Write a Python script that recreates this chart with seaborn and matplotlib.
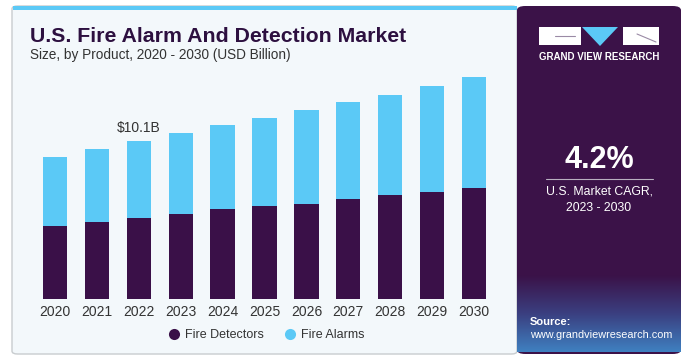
import matplotlib
matplotlib.use("Agg")
import matplotlib.pyplot as plt
from matplotlib.patches import FancyBboxPatch, Rectangle, Polygon
from matplotlib.lines import Line2D
from matplotlib.colors import LinearSegmentedColormap
import numpy as np
import pandas as pd
import seaborn as sns

years = ["2020", "2021", "2022", "2023", "2024", "2025", "2026", "2027", "2028", "2029", "2030"]
fire_detectors = [4.67, 4.90, 5.16, 5.42, 5.74, 5.95, 6.07, 6.39, 6.63, 6.82, 7.10]
fire_alarms = [4.43, 4.69, 4.94, 5.17, 5.37, 5.62, 6.01, 6.23, 6.43, 6.78, 7.09]
series_names = ["Fire Detectors", "Fire Alarms"]
annotation_year = "2022"
annotation_text = "$10.1B"

C_DET = "#3a1048"
C_ALM = "#5bc9f6"
C_BG = "#f3f8fb"
C_PANEL = "#3b1248"

sns.set_theme(style="white")
plt.rcParams["font.family"] = ["Liberation Sans", "DejaVu Sans"]

W, H = 688, 360
fig = plt.figure(figsize=(W / 100, H / 100), dpi=100)
fig.patch.set_facecolor("white")

def fx(px):
    return px / W

def fy(py):
    return 1 - py / H

# left panel
fig.patches.append(FancyBboxPatch((fx(12), fy(354)), fx(517 - 12), (354 - 6) / H,
                                  boxstyle="round,pad=0,rounding_size=0.008",
                                  transform=fig.transFigure, facecolor=C_BG,
                                  edgecolor="#c8cccf", linewidth=1.0, zorder=-3))
fig.patches.append(Rectangle((fx(13), fy(10)), fx(517 - 13), 4 / H,
                             transform=fig.transFigure, facecolor=C_ALM,
                             edgecolor="none", zorder=-2))
# right panel
fig.patches.append(FancyBboxPatch((fx(517), fy(354)), fx(681 - 517), (354 - 6) / H,
                                  boxstyle="round,pad=0,rounding_size=0.012",
                                  transform=fig.transFigure, facecolor=C_PANEL,
                                  edgecolor="none", zorder=-3))
# gradient in source area
grad_ax = fig.add_axes([fx(517), fy(352), fx(681 - 517), (352 - 275) / H], zorder=-1)
g = np.linspace(0, 1, 100).reshape(-1, 1)
cmap = LinearSegmentedColormap.from_list("g", [C_PANEL, "#3a3f80", "#3f80c0"])
grad_ax.imshow(g, aspect="auto", cmap=cmap, extent=[0, 1, 0, 1], origin="upper")
grad_ax.set_axis_off()

# chart axes
s = 41.9
x0 = 55 - 0.6 * s
ax = fig.add_axes([fx(x0), (360 - 299) / H, fx(11.2 * s), (15 * 15.64) / H], zorder=2)
ax.set_facecolor("none")

totals = [d + a for d, a in zip(fire_detectors, fire_alarms)]
df = pd.DataFrame({"year": years, "total": totals, "det": fire_detectors})
sns.barplot(data=df, x="year", y="total", color=C_ALM, width=0.58, ax=ax,
            saturation=1, edgecolor="none")
sns.barplot(data=df, x="year", y="det", color=C_DET, width=0.58, ax=ax,
            saturation=1, edgecolor="none")
ax.set_xlim(-0.6, 10.6)
ax.set_ylim(0, 15)
ax.set_xlabel("")
ax.set_ylabel("")
ax.set_yticks([])
for sp in ax.spines.values():
    sp.set_visible(False)
ax.tick_params(axis="x", length=0, pad=4, labelsize=10, labelcolor="#333333")

i = years.index(annotation_year)
ax.annotate(annotation_text, (i, totals[i]), xytext=(0, 4), textcoords="offset points",
            ha="center", va="bottom", fontsize=10, color="#333333")

# titles
fig.text(fx(30), fy(36), "U.S. Fire Alarm And Detection Market", fontsize=15.3,
         fontweight="bold", color="#2d1040", va="center", ha="left")
fig.text(fx(30), fy(55), "Size, by Product, 2020 - 2030 (USD Billion)", fontsize=9.8,
         color="#333333", va="center", ha="left")

# legend
handles = [Line2D([0], [0], marker="o", linestyle="none", markersize=8,
                  markerfacecolor=c, markeredgecolor="none") for c in (C_DET, C_ALM)]
fig.legend(handles, series_names, loc="center", bbox_to_anchor=(fx(266), fy(335)),
           ncol=2, frameon=False, fontsize=9, handlelength=1.0, handletextpad=0.4,
           columnspacing=1.6, labelcolor="#333333")

# logo
fig.patches.append(Rectangle((fx(539), fy(45)), fx(42), 18 / H, transform=fig.transFigure,
                             facecolor="white", edgecolor="none", zorder=2))
fig.patches.append(Rectangle((fx(623), fy(45)), fx(36), 18 / H, transform=fig.transFigure,
                             facecolor="white", edgecolor="none", zorder=2))
fig.patches.append(Polygon([(fx(582), fy(27)), (fx(618), fy(27)), (fx(600), fy(46))],
                           closed=True, transform=fig.transFigure, facecolor=C_ALM,
                           edgecolor="none", zorder=2))
fig.lines.append(Line2D([fx(555), fx(575)], [fy(36), fy(36)], transform=fig.transFigure,
                        color="#9a8aa5", linewidth=0.8, zorder=3))
fig.lines.append(Line2D([fx(637), fx(656)], [fy(34), fy(42)], transform=fig.transFigure,
                        color="#9a8aa5", linewidth=0.8, zorder=3))
fig.text(fx(599), fy(57), "GRAND VIEW RESEARCH", fontsize=7, fontweight="bold",
         color="white", ha="center", va="center")

fig.text(fx(599), fy(160), "4.2%", fontsize=22, fontweight="bold", color="white",
         ha="center", va="center")
fig.lines.append(Line2D([fx(546), fx(653)], [fy(179), fy(179)], transform=fig.transFigure,
                        color="#b8b0c0", linewidth=0.8))
fig.text(fx(599), fy(192), "U.S. Market CAGR,", fontsize=8.8, color="white",
         ha="center", va="center")
fig.text(fx(599), fy(208), "2023 - 2030", fontsize=8.8, color="white",
         ha="center", va="center")

fig.text(fx(530), fy(322), "Source:", fontsize=8, fontweight="bold", color="white",
         ha="left", va="center")
fig.text(fx(530), fy(335), "www.grandviewresearch.com", fontsize=7.8, color="white",
         ha="left", va="center")

fig.savefig("out.png", dpi=100)
